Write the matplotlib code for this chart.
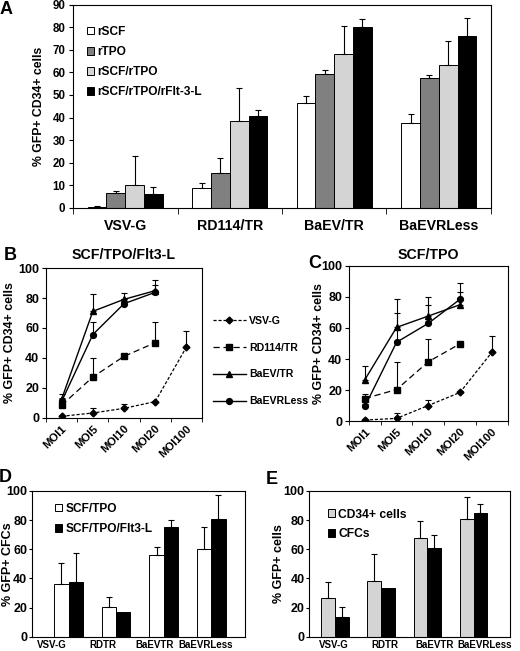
import numpy as np
import matplotlib
matplotlib.use("Agg")
import matplotlib.pyplot as plt
from matplotlib.patches import Patch

plt.rcParams["font.family"] = ["Liberation Sans", "DejaVu Sans"]
plt.rcParams["font.weight"] = "bold"
plt.rcParams["axes.linewidth"] = 0.8
plt.rcParams["axes.labelweight"] = "bold"

# ==== Panel A: vector x cytokine ====
a_groups = ["VSV-G", "RD114/TR", "BaEV/TR", "BaEVRLess"]
a_series = ["rSCF", "rTPO", "rSCF/rTPO", "rSCF/rTPO/rFlt-3-L"]
a_rscf = [0.5, 8.8, 46.3, 37.7]
a_rscf_err = [0.5, 2.2, 3.4, 3.9]
a_rtpo = [6.7, 15.3, 59.2, 57.4]
a_rtpo_err = [0.9, 7.0, 1.8, 1.5]
a_rscf_rtpo = [10.0, 38.6, 68.3, 63.2]
a_rscf_rtpo_err = [13.2, 14.5, 12.0, 10.5]
a_all = [6.1, 40.7, 80.2, 76.2]
a_all_err = [3.2, 2.5, 3.2, 7.7]

# ==== Panels B/C: MOI series ====
moi_labels = ["MOI1", "MOI5", "MOI10", "MOI20", "MOI100"]
vectors = ["VSV-G", "RD114/TR", "BaEV/TR", "BaEVRLess"]

b_vsvg = [1.1, 3.3, 6.4, 10.9, 47.3]
b_vsvg_err = [0.5, 3.4, 3.1, 0.5, 10.5]
b_rd114 = [8.5, 27.3, 41.1, 50.2]
b_rd114_err = [1.0, 12.5, 1.5, 14.0]
b_baev = [12.5, 71.1, 79.1, 84.9]
b_baev_err = [3.5, 11.3, 4.2, 6.9]
b_baevrless = [11.0, 55.6, 76.2, 83.8]
b_baevrless_err = [2.0, 8.4, 3.0, 5.1]

c_vsvg = [0.6, 1.7, 10.0, 18.4, 44.2]
c_vsvg_err = [0.5, 3.6, 3.5, 1.0, 10.5]
c_rd114 = [14.5, 20.3, 38.2, 49.8]
c_rd114_err = [2.8, 17.7, 14.8, 0.0]
c_baev = [26.7, 60.4, 67.7, 75.0]
c_baev_err = [8.8, 18.3, 12.0, 8.0]
c_baevrless = [9.4, 50.8, 63.0, 78.5]
c_baevrless_err = [1.5, 18.9, 11.8, 10.3]

# ==== Panel D: CFCs ====
d_groups = ["VSV-G", "RDTR", "BaEVTR", "BaEVRLess"]
d_series = ["SCF/TPO", "SCF/TPO/Flt3-L"]
d_scf_tpo = [36.1, 20.7, 55.9, 60.5]
d_scf_tpo_err = [14.2, 6.4, 5.7, 14.9]
d_flt = [37.2, 17.2, 75.4, 80.5]
d_flt_err = [20.0, 0.0, 4.6, 17.0]

# ==== Panel E: CD34+ vs CFCs ====
e_groups = ["VSV-G", "RDTR", "BaEVTR", "BaEVRLess"]
e_series = ["CD34+ cells", "CFCs"]
e_cd34 = [26.5, 38.0, 68.0, 81.0]
e_cd34_err = [10.8, 18.5, 11.4, 14.7]
e_cfc = [13.3, 33.6, 61.1, 85.1]
e_cfc_err = [7.3, 0.0, 8.7, 6.2]


def up_err(ax, x, y, err, cap=2.2):
    # nur nach oben, wie im Original
    for xi, yi, ei in zip(x, y, err):
        if ei > 0:
            ax.errorbar(xi, yi, yerr=[[0], [ei]], fmt="none", ecolor="black",
                        elinewidth=0.8, capsize=cap, capthick=0.8, zorder=3)


fig = plt.figure(figsize=(5.2, 6.51), dpi=100)

# ---- A ----
axA = fig.add_axes([0.1404, 0.6805, 0.8038, 0.3125])
xa = np.arange(len(a_groups))
bw = 0.18
a_vals = [a_rscf, a_rtpo, a_rscf_rtpo, a_all]
a_errs = [a_rscf_err, a_rtpo_err, a_rscf_rtpo_err, a_all_err]
a_colors = ["white", "#808080", "#d4d4d4", "black"]
for i, (vals, errs, col) in enumerate(zip(a_vals, a_errs, a_colors)):
    pos = xa + (i - 1.5) * bw
    axA.bar(pos, vals, bw, color=col, edgecolor="black", linewidth=0.7, zorder=2)
    up_err(axA, pos, vals, errs)
axA.set_xlim(-0.5, 3.5)
axA.set_ylim(0, 90)
axA.set_yticks(range(0, 91, 10))
axA.set_xticks(xa)
axA.set_xticklabels(a_groups, fontsize=10.2)
axA.set_xticks(np.arange(-0.5, 3.6, 1), minor=True)
axA.tick_params(axis="x", which="major", length=0, pad=8)
axA.tick_params(axis="x", which="minor", length=4, direction="out")
axA.tick_params(axis="y", labelsize=8.3, length=3, direction="out", pad=2.5)
axA.set_ylabel("% GFP+ CD34+ cells", fontsize=8.8)
axA.yaxis.set_label_coords(-0.068, 0.5)
axA.legend([Patch(facecolor=c, edgecolor="black", linewidth=0.7) for c in a_colors],
           a_series, loc="center left", bbox_to_anchor=(87 / 520, 1 - 62 / 651),
           bbox_transform=fig.transFigure, frameon=False, fontsize=8.6,
           handlelength=0.6, handleheight=0.6, handletextpad=0.25,
           labelspacing=0.68, borderpad=0, borderaxespad=0)


# ---- B & C ----
def moi_panel(ax, vsvg, vsvg_err, rd, rd_err, baev, baev_err, rless, rless_err):
    x5 = np.arange(len(moi_labels))
    x4 = x5[:4]
    l1, = ax.plot(x5, vsvg, color="black", lw=0.9, ls=(0, (2.5, 1.5)),
                  marker="D", ms=3.5, zorder=4)
    l2, = ax.plot(x4, rd, color="black", lw=0.9, ls=(0, (5, 3)),
                  marker="s", ms=4.5, zorder=4)
    l3, = ax.plot(x4, baev, color="black", lw=1.0, marker="^", ms=4.5, zorder=4)
    l4, = ax.plot(x4, rless, color="black", lw=1.0, marker="o", ms=4.2, zorder=4)
    up_err(ax, x5, vsvg, vsvg_err)
    up_err(ax, x4, rd, rd_err)
    up_err(ax, x4, baev, baev_err)
    up_err(ax, x4, rless, rless_err)
    ax.set_xlim(-0.5, 4.5)
    ax.set_ylim(0, 100)
    ax.set_yticks(range(0, 101, 20))
    ax.set_xticks(x5)
    ax.set_xticklabels(moi_labels, rotation=45, ha="right", rotation_mode="anchor",
                       fontsize=8.2)
    ax.set_xticks(np.arange(-0.5, 4.6, 1), minor=True)
    ax.tick_params(axis="x", which="major", length=0, pad=4)
    ax.tick_params(axis="x", which="minor", length=3, direction="out")
    ax.tick_params(axis="y", labelsize=9, length=3, direction="out", pad=2)
    ax.set_ylabel("% GFP+ CD34+ cells", fontsize=8.9)
    return [l1, l2, l3, l4]


axB = fig.add_axes([0.0885, 0.358, 0.300, 0.2303])
handles = moi_panel(axB, b_vsvg, b_vsvg_err, b_rd114, b_rd114_err,
                    b_baev, b_baev_err, b_baevrless, b_baevrless_err)
axB.yaxis.set_label_coords(-0.19, 0.5)
axB.legend(handles, vectors, loc="center left", bbox_to_anchor=(213 / 520, 1 - 361 / 651),
           bbox_transform=fig.transFigure, frameon=False, fontsize=7.6,
           handlelength=3.1, handletextpad=0.3, labelspacing=1.6,
           borderpad=0, borderaxespad=0)

axC = fig.add_axes([0.6712, 0.3533, 0.3048, 0.2381])
moi_panel(axC, c_vsvg, c_vsvg_err, c_rd114, c_rd114_err,
          c_baev, c_baev_err, c_baevrless, c_baevrless_err)
axC.yaxis.set_label_coords(-0.15, 0.5)

fig.text(124 / 520, 1 - 255 / 651, "SCF/TPO/Flt3-L", ha="center", va="center", fontsize=10.2)
fig.text(428 / 520, 1 - 255 / 651, "SCF/TPO", ha="center", va="center", fontsize=10.2)


# ---- D & E ----
def pair_panel(ax, groups, v1, e1, v2, e2, c1, xlim, label_pos, ylab):
    x = np.arange(len(groups))
    w = 0.3
    ax.bar(x - w / 2, v1, w, color=c1, edgecolor="black", linewidth=0.7, zorder=2)
    ax.bar(x + w / 2, v2, w, color="black", edgecolor="black", linewidth=0.7, zorder=2)
    up_err(ax, x - w / 2, v1, e1)
    up_err(ax, x + w / 2, v2, e2)
    ax.set_xlim(*xlim)
    ax.set_ylim(0, 100)
    ax.set_yticks(range(0, 101, 20))
    ax.set_xticks(label_pos)
    ax.set_xticklabels(groups, fontsize=7)
    ax.tick_params(axis="x", length=0, pad=2.5)
    ax.tick_params(axis="y", labelsize=9, length=2, direction="out", pad=1.5)
    ax.set_ylabel(ylab, fontsize=9)
    return [Patch(facecolor=c1, edgecolor="black", linewidth=0.7),
            Patch(facecolor="black", edgecolor="black", linewidth=0.7)]


axD = fig.add_axes([0.0615, 0.022, 0.4106, 0.2238])
hD = pair_panel(axD, d_groups, d_scf_tpo, d_scf_tpo_err, d_flt, d_flt_err, "white",
                (-0.77, 3.72), np.arange(4) * 1.08 - 0.35, "% GFP+ CFCs")
axD.yaxis.set_label_coords(-0.085, 0.5)
axD.legend(hD, d_series, loc="center left",
           bbox_to_anchor=(55 / 520, 1 - 519 / 651), bbox_transform=fig.transFigure,
           frameon=False, fontsize=8.6, handlelength=0.6, handleheight=0.6,
           handletextpad=0.25, labelspacing=0.75, borderpad=0, borderaxespad=0)

axE = fig.add_axes([0.5948, 0.022, 0.386, 0.2238])
hE = pair_panel(axE, e_groups, e_cd34, e_cd34_err, e_cfc, e_cfc_err, "#d4d4d4",
                (-0.56, 3.79), np.arange(4) * 1.09 - 0.02, "% GFP+ cells")
axE.yaxis.set_label_coords(-0.12, 0.5)
axE.legend(hE, e_series, loc="center left",
           bbox_to_anchor=(328 / 520, 1 - 524.5 / 651), bbox_transform=fig.transFigure,
           frameon=False, fontsize=8.7, handlelength=0.6, handleheight=0.6,
           handletextpad=0.25, labelspacing=0.65, borderpad=0, borderaxespad=0)

# ---- Panel-Buchstaben ----
for letter, px, py in [("A", 6, 9), ("B", 10, 256), ("C", 315, 264), ("D", 5, 478), ("E", 272, 480)]:
    fig.text(px / 520, 1 - py / 651, letter, ha="center", va="center", fontsize=13)

fig.savefig("out.png", dpi=100)
